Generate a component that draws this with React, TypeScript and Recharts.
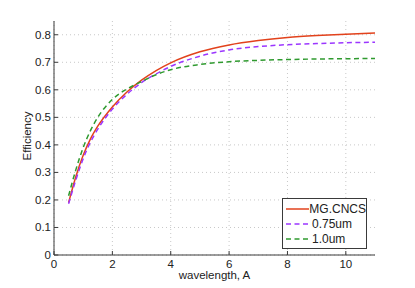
import React from "react";
import { LineChart, Line, XAxis, YAxis, CartesianGrid, Legend, Label } from "recharts";

const wavelength = [0.5, 0.75, 1, 1.25, 1.5, 2, 2.5, 3, 3.5, 4, 5, 6, 7, 8, 9, 10, 11];
const mgCncs = [0.19, 0.285, 0.362, 0.422, 0.468, 0.538, 0.592, 0.635, 0.67, 0.698, 0.738, 0.763, 0.779, 0.79, 0.797, 0.802, 0.806];
const um075 = [0.186, 0.273, 0.35, 0.41, 0.457, 0.53, 0.584, 0.626, 0.658, 0.685, 0.722, 0.745, 0.757, 0.764, 0.768, 0.771, 0.773];
const um10 = [0.215, 0.31, 0.39, 0.452, 0.5, 0.565, 0.603, 0.63, 0.655, 0.673, 0.692, 0.702, 0.707, 0.71, 0.712, 0.713, 0.714];

const xTicks = [0, 2, 4, 6, 8, 10];
const yTicks = [0, 0.1, 0.2, 0.3, 0.4, 0.5, 0.6, 0.7, 0.8];

const series = [
  { key: "mg", name: "MG.CNCS", color: "#e2421c", dash: undefined },
  { key: "a", name: "0.75um", color: "#9b36ff", dash: "5 3.5" },
  { key: "b", name: "1.0um", color: "#2f9a2f", dash: "5 3.5" },
];

const data = wavelength.map((w, i) => ({ w, mg: mgCncs[i], a: um075[i], b: um10[i] }));

const FONT = "'Liberation Sans', Arial, Helvetica, sans-serif";
const FRAME = "#3a3a3a";

const BottomTick = ({ x, y, payload }: any) => (
  <g>
    <line x1={x} x2={x} y1={y} y2={y - 4} stroke={FRAME} />
    <text x={x} y={y + 13} textAnchor="middle" fontSize={11.5} fontFamily={FONT} fill="#222">
      {payload.value}
    </text>
  </g>
);

const TopTick = ({ x, y }: any) => <line x1={x} x2={x} y1={y} y2={y + 4} stroke={FRAME} />;

const LeftTick = ({ x, y, payload }: any) => (
  <g>
    <line x1={x} x2={x + 4} y1={y} y2={y} stroke={FRAME} />
    <text x={x - 3} y={y} dy="0.35em" textAnchor="end" fontSize={11.5} fontFamily={FONT} fill="#222">
      {payload.value}
    </text>
  </g>
);

const RightTick = ({ x, y }: any) => <line x1={x} x2={x - 4} y1={y} y2={y} stroke={FRAME} />;

const LegendBox = () => (
  <div
    style={{
      width: 83,
      height: 47,
      border: `1px solid ${FRAME}`,
      background: "#fff",
      boxSizing: "content-box",
      paddingTop: 2,
      fontFamily: FONT,
      fontSize: 12,
      color: "#222",
    }}
  >
    {series.map((s) => (
      <div key={s.key} style={{ display: "flex", alignItems: "center", height: 15 }}>
        <svg width={27} height={10} style={{ marginLeft: 2 }}>
          <line x1={1} x2={25} y1={5} y2={5} stroke={s.color} strokeWidth={1.5} strokeDasharray={s.dash} />
        </svg>
        <span>{s.name}</span>
      </div>
    ))}
  </div>
);

export default function App() {
  return (
    <div style={{ position: "absolute", left: 0, top: 0, background: "#fff" }}>
      <LineChart width={415} height={288} data={data} margin={{ top: 21, right: 40, left: 0, bottom: 0 }}>
        <CartesianGrid stroke="#c8c8c8" strokeDasharray="1 3" horizontalValues={yTicks} verticalValues={xTicks} />
        <XAxis
          dataKey="w"
          type="number"
          domain={[0, 11]}
          ticks={xTicks}
          height={33}
          tickSize={0}
          tickMargin={0}
          tickLine={false}
          axisLine={{ stroke: FRAME }}
          tick={<BottomTick />}
          interval={0}
          allowDataOverflow
        >
          <Label
            content={({ viewBox }: any) => (
              <text x={viewBox.x + viewBox.width / 2} y={viewBox.y + 24} textAnchor="middle" fontSize={11.5} fontFamily={FONT} fill="#222">
                wavelength, A
              </text>
            )}
          />
        </XAxis>
        <XAxis
          xAxisId="top"
          orientation="top"
          dataKey="w"
          type="number"
          domain={[0, 11]}
          ticks={xTicks}
          height={0}
          tickSize={0}
          tickMargin={0}
          tickLine={false}
          axisLine={{ stroke: FRAME }}
          tick={<TopTick />}
          interval={0}
          allowDataOverflow
        />
        <YAxis
          type="number"
          domain={[0, 0.85]}
          ticks={yTicks}
          width={54}
          tickSize={0}
          tickMargin={0}
          tickLine={false}
          axisLine={{ stroke: FRAME }}
          tick={<LeftTick />}
          interval={0}
          allowDataOverflow
        >
          <Label
            content={({ viewBox }: any) => {
              const cx = 27;
              const cy = viewBox.y + viewBox.height / 2 - 2;
              return (
                <text x={cx} y={cy} dy="0.35em" textAnchor="middle" fontSize={11.5} fontFamily={FONT} fill="#222" transform={`rotate(-90 ${cx} ${cy})`}>
                  Efficiency
                </text>
              );
            }}
          />
        </YAxis>
        <YAxis
          yAxisId="right"
          orientation="right"
          type="number"
          domain={[0, 0.85]}
          ticks={yTicks}
          width={0}
          tickSize={0}
          tickMargin={0}
          tickLine={false}
          axisLine={{ stroke: FRAME }}
          tick={<RightTick />}
          interval={0}
          allowDataOverflow
        />
        {series.map((s) => (
          <Line
            key={s.key}
            type="monotone"
            dataKey={s.key}
            name={s.name}
            stroke={s.color}
            strokeWidth={1.5}
            strokeDasharray={s.dash}
            dot={false}
            isAnimationActive={false}
          />
        ))}
        <Legend
          layout="vertical"
          align="center"
          verticalAlign="middle"
          content={<LegendBox />}
          wrapperStyle={{ left: 282, top: 198, width: 85, height: 50 }}
        />
      </LineChart>
    </div>
  );
}
